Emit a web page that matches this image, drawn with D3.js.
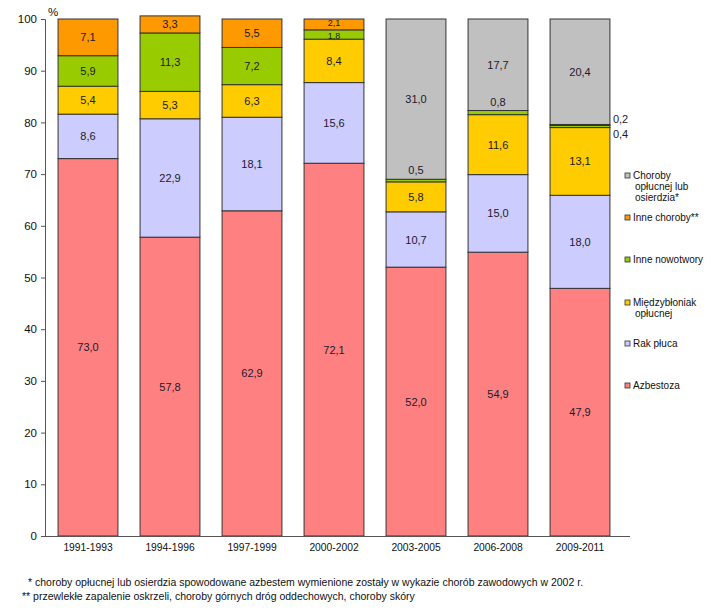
<!DOCTYPE html>
<html>
<head>
<meta charset="utf-8">
<script src="https://cdn.jsdelivr.net/npm/d3@7"></script>
<style>
  body { margin: 0; background: #fff; }
  svg { font-family: "Liberation Sans", Arial, sans-serif; }
</style>
</head>
<body>
<svg id="chart" width="711" height="610"></svg>
<script>
const periods = ["1991-1993", "1994-1996", "1997-1999", "2000-2002", "2003-2005", "2006-2008", "2009-2011"];
const seriesNames = ["Azbestoza", "Rak płuca", "Międzybłoniak opłucnej", "Inne nowotwory", "Inne choroby**", "Choroby opłucnej lub osierdzia*"];
const azbestoza = [73.0, 57.8, 62.9, 72.1, 52.0, 54.9, 47.9];
const rakPluca = [8.6, 22.9, 18.1, 15.6, 10.7, 15.0, 18.0];
const miedzyblonik = [5.4, 5.3, 6.3, 8.4, 5.8, 11.6, 13.1];
const inneNowotwory = [5.9, 11.3, 7.2, 1.8, 0.5, 0.8, 0.4];
const inneChoroby = [7.1, 3.3, 5.5, 2.1, 0, 0, 0.2];
const chorobyOplucnej = [0, 0, 0, 0, 31.0, 17.7, 20.4];
const yTicks = [0, 10, 20, 30, 40, 50, 60, 70, 80, 90, 100];

const colors = ["#ff8080", "#ccccff", "#ffcc00", "#99cc00", "#ff9900", "#c0c0c0"];
const legendLines = [
  ["Choroby", "opłucnej lub", "osierdzia*"],
  ["Inne choroby**"],
  ["Inne nowotwory"],
  ["Międzybłoniak", "opłucnej"],
  ["Rak płuca"],
  ["Azbestoza"]
];

const values = [azbestoza, rakPluca, miedzyblonik, inneNowotwory, inneChoroby, chorobyOplucnej];
const rows = periods.map((p, i) => {
  const row = { period: p };
  seriesNames.forEach((s, k) => { row[s] = values[k][i]; });
  return row;
});

const svg = d3.select("#chart");
const x = d3.scaleBand().domain(periods).range([47, 621]).paddingInner(0.27).paddingOuter(0.135);
const y = d3.scaleLinear().domain([0, 100]).range([536, 19]);

const stack = d3.stack().keys(seriesNames)(rows);

const fmt = (v) => v.toFixed(1).replace(".", ",");

stack.forEach((layer, k) => {
  const g = svg.append("g");
  layer.forEach((d, i) => {
    const v = d[1] - d[0];
    if (v <= 0) return;
    g.append("rect")
      .attr("x", x(periods[i]))
      .attr("width", x.bandwidth())
      .attr("y", y(d[1]))
      .attr("height", y(d[0]) - y(d[1]))
      .attr("fill", colors[k])
      .attr("stroke", "#333")
      .attr("stroke-width", 1);
  });
});

// labels
stack.forEach((layer, k) => {
  layer.forEach((d, i) => {
    const v = d[1] - d[0];
    if (v <= 0) return;
    const cx = x(periods[i]) + x.bandwidth() / 2;
    let lx = cx, ly = (y(d[0]) + y(d[1])) / 2 + 4, anchor = "middle", fs = 11;
    if (i === 6 && v < 1) {
      // tiny segments of last bar labelled outside on the right
      lx = x(periods[i]) + x.bandwidth() + 3;
      anchor = "start";
      ly = k === 3 ? y(d[1]) + 12 : y(d[1]) - 1;
    } else if (v < 1) {
      ly = y(d[1]) - 5;
    } else if (v < 2.5) {
      // the two thin slices of 2000-2002 sit right on top of each other
      fs = 9;
      ly = (y(d[0]) + y(d[1])) / 2 + (k === 4 ? 2 : 4.5);
    }
    svg.append("text")
      .attr("x", lx)
      .attr("y", ly)
      .attr("text-anchor", anchor)
      .attr("font-size", fs)
      .attr("fill", "#1a1a2e")
      .text(fmt(v));
  });
});

// y axis
const yAxis = svg.append("g")
  .attr("transform", "translate(45,0)")
  .call(d3.axisLeft(y).tickValues(yTicks).tickSize(4).tickPadding(4).tickFormat(d3.format("d")));
yAxis.select(".domain").attr("stroke", "#555");
yAxis.selectAll(".tick line").attr("stroke", "#555");
yAxis.selectAll(".tick text").attr("font-size", 11.5).attr("fill", "#111").attr("font-family", "Liberation Sans, Arial, sans-serif");

svg.append("line").attr("x1", 41).attr("x2", 630).attr("y1", 536.5).attr("y2", 536.5).attr("stroke", "#555");

svg.append("text").attr("x", 48).attr("y", 16).attr("font-size", 11.5).attr("fill", "#111").text("%");

// x labels
svg.append("g").selectAll("text").data(periods).join("text")
  .attr("x", (d) => x(d) + x.bandwidth() / 2)
  .attr("y", 551)
  .attr("text-anchor", "middle")
  .attr("font-size", 10.3)
  .attr("fill", "#111")
  .text((d) => d);

// legend
const legendY = [179, 221, 263, 306, 347, 389];
legendLines.forEach((lines, i) => {
  const ly = legendY[i];
  svg.append("rect")
    .attr("x", 625).attr("y", ly - 6).attr("width", 5).attr("height", 5)
    .attr("fill", colors[5 - i]).attr("stroke", "#333").attr("stroke-width", 0.8);
  lines.forEach((t, j) => {
    svg.append("text")
      .attr("x", j === 0 ? 633 : 635)
      .attr("y", ly + j * 11)
      .attr("font-size", 10)
      .attr("fill", "#111")
      .text(t);
  });
});

// footnotes
svg.append("text").attr("x", 28).attr("y", 586).attr("font-size", 10.5).attr("fill", "#111")
  .text("* choroby opłucnej lub osierdzia spowodowane azbestem wymienione zostały w wykazie chorób zawodowych w 2002 r.");
svg.append("text").attr("x", 22).attr("y", 600).attr("font-size", 10.5).attr("fill", "#111")
  .text("** przewlekłe zapalenie oskrzeli, choroby górnych dróg oddechowych, choroby skóry");
</script>
</body>
</html>
